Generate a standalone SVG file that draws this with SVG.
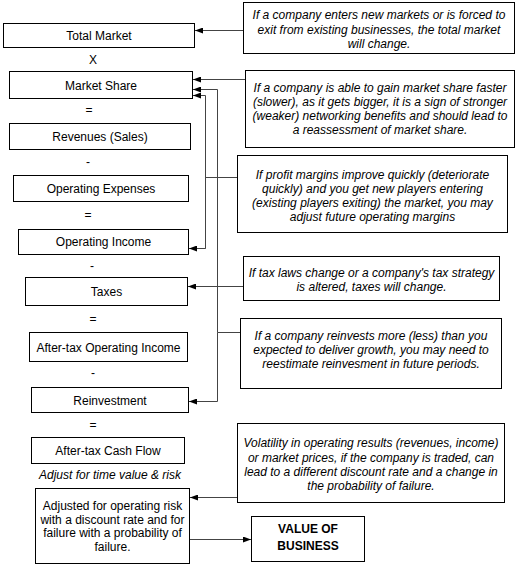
<svg xmlns="http://www.w3.org/2000/svg" width="519" height="567" viewBox="0 0 519 567">
<style>
.box{fill:#fff;stroke:#000;stroke-width:1}
.lbl{font-family:"Liberation Sans",Arial,sans-serif;font-size:12px;fill:#000;text-anchor:middle}
.note{font-family:"Liberation Sans",Arial,sans-serif;font-size:12px;font-style:italic;fill:#000;text-anchor:middle}
.bold{font-family:"Liberation Sans",Arial,sans-serif;font-size:12px;font-weight:bold;fill:#000;text-anchor:middle}
.op{font-family:"Liberation Sans",Arial,sans-serif;font-size:12px;fill:#000;text-anchor:middle}
.conn{fill:none;stroke:#444;stroke-width:1}
</style>
<defs>
<marker id="arr" viewBox="0 0 8 6" refX="8" refY="3" markerWidth="8" markerHeight="6" markerUnits="userSpaceOnUse" orient="auto">
<path d="M0,0 L8,3 L0,6 Z" fill="#000"/>
</marker>
</defs>
<rect width="519" height="567" fill="#fff"/>

<g id="connectors">
<line class="conn" x1="243" y1="30.5" x2="195" y2="30.5" marker-end="url(#arr)"/>
<line class="conn" x1="245" y1="79.5" x2="193" y2="79.5" marker-end="url(#arr)"/>
<polyline class="conn" points="237,177.5 205.5,177.5"/>
<polyline class="conn" points="205.5,248.5 205.5,95.5 193,95.5" marker-end="url(#arr)"/>
<polyline class="conn" points="205.5,177.5 205.5,248.5 189,248.5" marker-end="url(#arr)"/>
<polyline class="conn" points="240,332.5 217.5,332.5"/>
<polyline class="conn" points="217.5,332.5 217.5,89.5 193,89.5" marker-end="url(#arr)"/>
<polyline class="conn" points="217.5,332.5 217.5,401.5 189,401.5" marker-end="url(#arr)"/>
<line class="conn" x1="243" y1="286.5" x2="188" y2="286.5" marker-end="url(#arr)"/>
<line class="conn" x1="237" y1="497.5" x2="190" y2="497.5" marker-end="url(#arr)"/>
<line class="conn" x1="190" y1="539.5" x2="251" y2="539.5" marker-end="url(#arr)"/>
</g>

<g id="total-market"><rect class="box" x="3.5" y="23.5" width="191" height="24"/><text class="lbl" x="99" y="39.5">Total Market</text></g>
<text class="op" x="93" y="64">X</text>
<g id="market-share"><rect class="box" x="9.5" y="71.5" width="183" height="27"/><text class="lbl" x="101" y="89.5">Market Share</text></g>
<text class="op" x="89" y="114">=</text>
<g id="revenues"><rect class="box" x="9.5" y="123.5" width="181" height="26"/><text class="lbl" x="100" y="140.5">Revenues (Sales)</text></g>
<text class="op" x="88" y="166">-</text>
<g id="operating-expenses"><rect class="box" x="13.5" y="175.5" width="175" height="26"/><text class="lbl" x="101" y="192.5">Operating Expenses</text></g>
<text class="op" x="88" y="219">=</text>
<g id="operating-income"><rect class="box" x="18.5" y="229.5" width="170" height="25"/><text class="lbl" x="103.5" y="246">Operating Income</text></g>
<text class="op" x="92" y="270">-</text>
<g id="taxes"><rect class="box" x="25.5" y="277.5" width="162" height="28"/><text class="lbl" x="106.5" y="296">Taxes</text></g>
<text class="op" x="93" y="323">=</text>
<g id="after-tax-operating-income"><rect class="box" x="29.5" y="332.5" width="158" height="29"/><text class="lbl" x="108.5" y="351.5">After-tax Operating Income</text></g>
<text class="op" x="93" y="377">-</text>
<g id="reinvestment"><rect class="box" x="31.5" y="387.5" width="157" height="25"/><text class="lbl" x="110" y="404.5">Reinvestment</text></g>
<text class="op" x="93" y="429">=</text>
<g id="after-tax-cash-flow"><rect class="box" x="31.5" y="437.5" width="153" height="26"/><text class="lbl" x="108" y="455">After-tax Cash Flow</text></g>
<text class="note" x="110" y="479">Adjust for time value &amp; risk</text>
<g id="adjusted"><rect class="box" x="35.5" y="488.5" width="154" height="75"/>
<text class="lbl" x="112.5" y="510">Adjusted for operating risk</text>
<text class="lbl" x="112.5" y="523.5">with a discount rate and for</text>
<text class="lbl" x="112.5" y="537">failure with a probability of</text>
<text class="lbl" x="112.5" y="551">failure.</text></g>
<g id="value-of-business"><rect class="box" x="251.5" y="516.5" width="113" height="45"/>
<text class="bold" x="308" y="532.5">VALUE OF</text>
<text class="bold" x="308" y="550">BUSINESS</text></g>

<g id="note-total-market"><rect class="box" x="243.5" y="2.5" width="271" height="51"/>
<text class="note" x="379" y="19">If a company enters new markets or is forced to</text>
<text class="note" x="379" y="33.5">exit from existing businesses, the total market</text>
<text class="note" x="379" y="48">will change.</text></g>
<g id="note-market-share"><rect class="box" x="245.5" y="70.5" width="269" height="77"/>
<text class="note" x="380" y="92">If a company is able to gain market share faster</text>
<text class="note" x="380" y="106">(slower), as it gets bigger, it is a sign of stronger</text>
<text class="note" x="380" y="120">(weaker) networking benefits and should lead to</text>
<text class="note" x="380" y="134">a reassessment of market share.</text></g>
<g id="note-margins"><rect class="box" x="237.5" y="155.5" width="270" height="77"/>
<text class="note" x="372.5" y="179">If profit margins improve quickly (deteriorate</text>
<text class="note" x="372.5" y="193">quickly) and you get new players entering</text>
<text class="note" x="372.5" y="207">(existing players exiting) the market, you may</text>
<text class="note" x="372.5" y="221">adjust future operating margins</text></g>
<g id="note-taxes"><rect class="box" x="243.5" y="256.5" width="256" height="44"/>
<text class="note" x="371.5" y="277">If tax laws change or a company's tax strategy</text>
<text class="note" x="371.5" y="291">is altered, taxes will change.</text></g>
<g id="note-reinvestment"><rect class="box" x="240.5" y="318.5" width="261" height="70"/>
<text class="note" x="371" y="340">If a company reinvests more (less) than you</text>
<text class="note" x="371" y="354">expected to deliver growth, you may need to</text>
<text class="note" x="371" y="368">reestimate reinvesment in future periods.</text></g>
<g id="note-volatility"><rect class="box" x="237.5" y="423.5" width="267" height="79"/>
<text class="note" x="371" y="447">Volatility in operating results (revenues, income)</text>
<text class="note" x="371" y="461.5">or market prices, if the company is traded, can</text>
<text class="note" x="371" y="476">lead to a different discount rate and a change in</text>
<text class="note" x="371" y="490">the probability of failure.</text></g>
</svg>
